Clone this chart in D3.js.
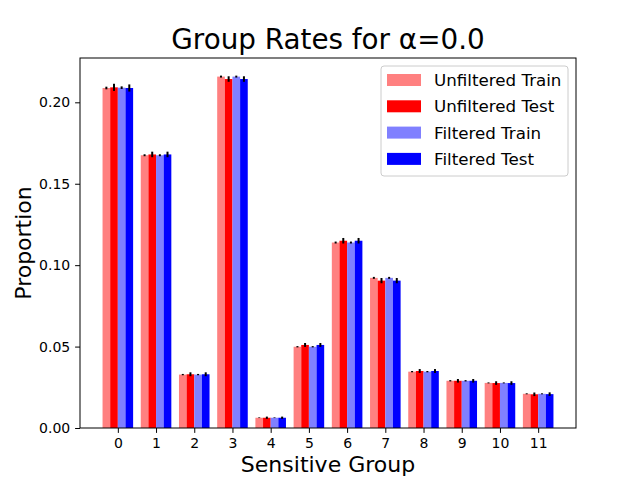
<!DOCTYPE html>
<html>
<head>
<meta charset="utf-8">
<script src="https://cdn.jsdelivr.net/npm/d3@7"></script>
<style>
  body { margin: 0; background: #fff; }
  text { font-family: "DejaVu Sans", sans-serif; }
</style>
</head>
<body>
<div id="chart"></div>
<script>
const groups = ["0", "1", "2", "3", "4", "5", "6", "7", "8", "9", "10", "11"];
const seriesNames = ["Unfiltered Train", "Unfiltered Test", "Filtered Train", "Filtered Test"];
const seriesColors = ["#ff8080", "#ff0000", "#8080ff", "#0000ff"];

const unfilteredTrain = [0.2088, 0.1675, 0.0328, 0.2158, 0.0063, 0.0499, 0.1139, 0.0922, 0.0346, 0.0290, 0.0277, 0.0210];
const unfilteredTest  = [0.2092, 0.1680, 0.0330, 0.2143, 0.0063, 0.0510, 0.1150, 0.0905, 0.0350, 0.0290, 0.0276, 0.0207];
const filteredTrain   = [0.2090, 0.1675, 0.0328, 0.2158, 0.0063, 0.0499, 0.1139, 0.0922, 0.0346, 0.0290, 0.0277, 0.0210];
const filteredTest    = [0.2088, 0.1680, 0.0330, 0.2143, 0.0063, 0.0510, 0.1150, 0.0905, 0.0350, 0.0290, 0.0276, 0.0208];

const trainErr = [0.0008, 0.0006, 0.0004, 0.0006, 0.0002, 0.0004, 0.0006, 0.0006, 0.0004, 0.0004, 0.0003, 0.0003];
const testErr  = [0.0022, 0.0017, 0.0012, 0.0017, 0.0007, 0.0012, 0.0017, 0.0016, 0.0012, 0.0011, 0.0011, 0.0011];

const yTicks = [0, 0.05, 0.10, 0.15, 0.20];

const width = 640;
const height = 480;
const margin = { top: 58, right: 64, bottom: 52, left: 80 };

const svg = d3.select("#chart")
  .append("svg")
  .attr("width", width)
  .attr("height", height);

const series = [
  { values: unfilteredTrain, err: trainErr },
  { values: unfilteredTest, err: testErr },
  { values: filteredTrain, err: trainErr },
  { values: filteredTest, err: testErr },
];

// linear x like matplotlib: group index, bars 0.2 wide, 5% margins
const barW = 0.2;
const xMin = -0.4, xMax = groups.length - 1 + 0.4;
const pad = (xMax - xMin) * 0.05;
const x = d3.scaleLinear()
  .domain([xMin - pad, xMax + pad])
  .range([margin.left, width - margin.right]);

const yMax = d3.max(series, (s) => d3.max(s.values, (v, i) => v + s.err[i])) * 1.05;
const y = d3.scaleLinear()
  .domain([0, yMax])
  .range([height - margin.bottom, margin.top]);

// bars
series.forEach((s, k) => {
  const off = (k - 1.5) * barW;
  svg.append("g")
    .selectAll("rect")
    .data(s.values)
    .join("rect")
    .attr("x", (d, i) => x(i + off - barW / 2))
    .attr("width", x(barW) - x(0))
    .attr("y", (d) => y(d))
    .attr("height", (d) => y(0) - y(d))
    .attr("fill", seriesColors[k]);
});

// error bars
series.forEach((s, k) => {
  const off = (k - 1.5) * barW;
  svg.append("g")
    .selectAll("line")
    .data(s.values)
    .join("line")
    .attr("x1", (d, i) => x(i + off))
    .attr("x2", (d, i) => x(i + off))
    .attr("y1", (d, i) => y(d - s.err[i]))
    .attr("y2", (d, i) => y(d + s.err[i]))
    .attr("stroke", "#000")
    .attr("stroke-width", 2);
});

// axes
const xAxis = d3.axisBottom(x)
  .tickValues(groups.map((g, i) => i))
  .tickFormat((d) => groups[d])
  .tickSize(4.9)
  .tickPadding(4.9);
const yAxis = d3.axisLeft(y)
  .tickValues(yTicks)
  .tickFormat(d3.format(".2f"))
  .tickSize(4.9)
  .tickPadding(4.9);

const gx = svg.append("g")
  .attr("transform", `translate(0, ${height - margin.bottom})`)
  .call(xAxis);
const gy = svg.append("g")
  .attr("transform", `translate(${margin.left}, 0)`)
  .call(yAxis);

[gx, gy].forEach((g) => {
  g.select(".domain").remove();
  g.selectAll("text").attr("font-size", 14).attr("fill", "#000")
    .style("font-family", "DejaVu Sans");
  g.selectAll(".tick line").attr("stroke", "#000").attr("stroke-width", 1);
});

// frame
svg.append("rect")
  .attr("x", margin.left)
  .attr("y", margin.top)
  .attr("width", width - margin.left - margin.right)
  .attr("height", height - margin.top - margin.bottom)
  .attr("fill", "none")
  .attr("stroke", "#000")
  .attr("stroke-width", 1);

// title and labels
svg.append("text")
  .attr("x", (margin.left + width - margin.right) / 2)
  .attr("y", 49)
  .attr("text-anchor", "middle")
  .attr("font-size", 27.8)
  .text("Group Rates for α=0.0");

svg.append("text")
  .attr("x", (margin.left + width - margin.right) / 2)
  .attr("y", 472)
  .attr("text-anchor", "middle")
  .attr("font-size", 22)
  .text("Sensitive Group");

svg.append("text")
  .attr("transform", `translate(31, ${(margin.top + height - margin.bottom) / 2}) rotate(-90)`)
  .attr("text-anchor", "middle")
  .attr("font-size", 22)
  .text("Proportion");

// legend
const legend = svg.append("g").attr("transform", "translate(381, 66)");
legend.append("rect")
  .attr("width", 187)
  .attr("height", 110)
  .attr("rx", 3)
  .attr("fill", "#fff")
  .attr("fill-opacity", 0.8)
  .attr("stroke", "#ccc");

seriesNames.forEach((name, k) => {
  const row = legend.append("g").attr("transform", `translate(0, ${14 + k * 26.3})`);
  row.append("rect")
    .attr("x", 6)
    .attr("y", -6)
    .attr("width", 34)
    .attr("height", 12)
    .attr("fill", seriesColors[k]);
  row.append("text")
    .attr("x", 53)
    .attr("y", 6)
    .attr("font-size", 16.7)
    .text(name);
});
</script>
</body>
</html>
